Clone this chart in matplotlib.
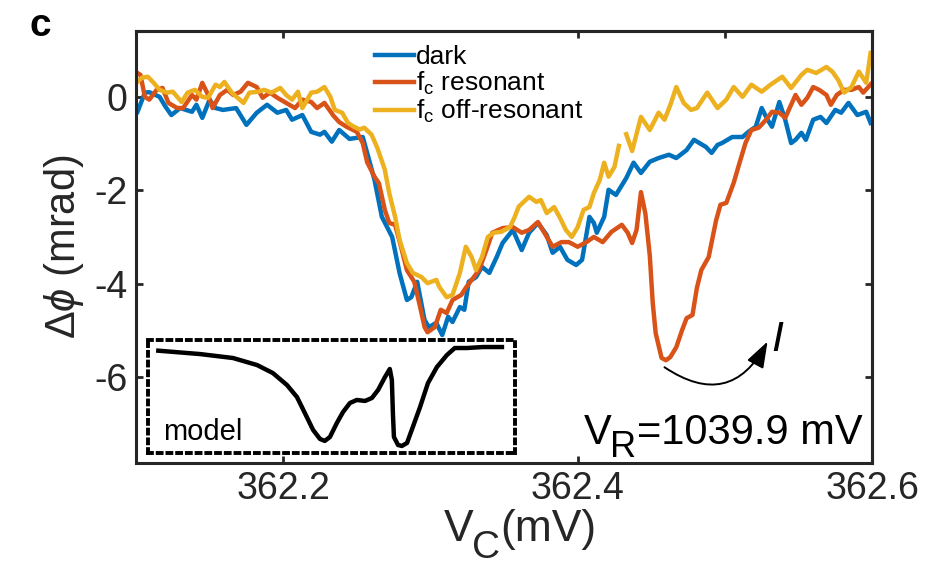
import numpy as np
import matplotlib
matplotlib.use("Agg")
import matplotlib.pyplot as plt

plt.rcParams['font.family'] = ['Liberation Sans', 'DejaVu Sans']
plt.rcParams['mathtext.fontset'] = 'custom'
plt.rcParams['mathtext.rm'] = 'Liberation Sans'
plt.rcParams['mathtext.it'] = 'Liberation Sans:italic'

# dark
vc_dark = [362.101, 362.106, 362.109, 362.116, 362.120, 362.124, 362.130, 362.138, 362.141, 362.145,
           362.150, 362.154, 362.159, 362.168, 362.175, 362.182, 362.189, 362.196, 362.202, 362.206,
           362.213, 362.219, 362.225, 362.228, 362.233, 362.238, 362.245, 362.254, 362.257, 362.262,
           362.267, 362.274, 362.279, 362.284, 362.287, 362.291, 362.296, 362.299, 362.304, 362.308,
           362.312, 362.315, 362.320, 362.323, 362.326, 362.331, 362.335, 362.340, 362.345, 362.349,
           362.356, 362.362, 362.367, 362.373, 362.379, 362.383, 362.388, 362.393, 362.399, 362.403,
           362.408, 362.411, 362.413, 362.418, 362.421, 362.426, 362.433, 362.438, 362.443, 362.449,
           362.455, 362.462, 362.467, 362.474, 362.479, 362.487, 362.491, 362.495, 362.498, 362.505,
           362.512, 362.516, 362.521, 362.525, 362.529, 362.532, 362.537, 362.541, 362.545, 362.548,
           362.552, 362.555, 362.560, 362.565, 362.569, 362.575, 362.579, 362.584, 362.590, 362.596,
           362.599]
dphi_dark = [-0.32, 0.09, 0.10, 0.00, -0.21, -0.39, -0.24, -0.32, -0.17, -0.45,
             -0.06, -0.24, -0.28, -0.24, -0.60, -0.34, -0.17, -0.34, -0.28, -0.49,
             -0.39, -0.75, -0.81, -0.75, -0.96, -0.71, -0.90, -0.86, -1.20, -1.78,
             -2.57, -3.00, -3.77, -4.35, -4.29, -3.96, -4.78, -4.93, -4.84, -5.10,
             -4.71, -4.82, -4.50, -4.56, -3.96, -3.86, -3.64, -3.77, -3.43, -3.13,
             -2.85, -3.28, -2.91, -2.70, -2.96, -3.34, -3.21, -3.49, -3.60, -3.49,
             -2.57, -2.70, -2.91, -2.57, -1.99, -2.10, -1.74, -1.41, -1.63, -1.39,
             -1.31, -1.24, -1.31, -1.14, -0.92, -1.07, -1.20, -1.03, -0.99, -0.86,
             -0.86, -0.75, -0.64, -0.24, -0.49, -0.64, -0.11, -0.49, -0.99, -0.92,
             -0.77, -0.92, -0.49, -0.43, -0.56, -0.28, -0.34, -0.13, -0.39, -0.32,
             -0.56]

# fc resonant
vc_res = [362.101, 362.103, 362.106, 362.109, 362.114, 362.118, 362.122, 362.128, 362.132, 362.138,
          362.141, 362.145, 362.149, 362.152, 362.157, 362.162, 362.166, 362.171, 362.176, 362.182,
          362.186, 362.191, 362.196, 362.202, 362.208, 362.213, 362.219, 362.223, 362.228, 362.234,
          362.238, 362.243, 362.250, 362.254, 362.257, 362.262, 362.265, 362.269, 362.272, 362.276,
          362.280, 362.284, 362.289, 362.293, 362.296, 362.298, 362.303, 362.307, 362.311, 362.315,
          362.321, 362.324, 362.328, 362.333, 362.338, 362.342, 362.349, 362.356, 362.362, 362.367,
          362.373, 362.377, 362.383, 362.389, 362.394, 362.400, 362.406, 362.411, 362.417, 362.423,
          362.430, 362.434, 362.437, 362.440, 362.443, 362.446, 362.449, 362.451, 362.453, 362.457,
          362.460, 362.463, 362.467, 362.471, 362.474, 362.478, 362.481, 362.484, 362.489, 362.494,
          362.497, 362.501, 362.506, 362.510, 362.514, 362.518, 362.523, 362.528, 362.532, 362.537,
          362.541, 362.548, 362.552, 362.556, 362.560, 362.564, 362.569, 362.572, 362.576, 362.581,
          362.586, 362.591, 362.594, 362.600]
dphi_res = [0.51, 0.47, 0.00, -0.06, 0.15, 0.19, -0.13, -0.24, -0.24, 0.04,
            -0.06, 0.30, 0.04, -0.24, 0.04, 0.15, 0.04, 0.11, 0.30, 0.21,
            -0.02, 0.09, -0.02, -0.13, -0.24, -0.06, -0.11, -0.24, -0.13, -0.40,
            -0.54, -0.64, -0.75, -0.99, -1.40, -1.71, -1.85, -2.42, -2.70, -2.74,
            -3.21, -3.71, -3.96, -4.50, -4.93, -5.04, -4.93, -4.56, -4.63, -4.35,
            -4.24, -4.09, -3.92, -3.71, -3.28, -2.91, -2.81, -2.79, -2.91, -2.85,
            -2.68, -2.89, -3.21, -3.11, -3.11, -3.21, -3.11, -3.00, -3.11, -2.89,
            -2.74, -2.91, -3.13, -2.85, -2.04, -2.50, -3.40, -4.41, -5.06, -5.59,
            -5.64, -5.57, -5.36, -4.99, -4.74, -4.67, -4.09, -3.71, -3.43, -2.65,
            -2.31, -2.27, -1.84, -1.41, -0.99, -0.71, -0.66, -0.49, -0.32, -0.34,
            -0.45, 0.04, -0.17, -0.02, 0.21, 0.15, 0.04, -0.17, 0.04, 0.15,
            0.15, 0.21, 0.09, 0.30]

# fc off-resonant (nan = gap in trace)
vc_off = [362.101, 362.104, 362.108, 362.112, 362.116, 362.121, 362.125, 362.131, 362.135, 362.140,
          362.145, 362.149, 362.154, 362.157, 362.160, 362.165, 362.169, 362.173, 362.177, 362.183,
          362.187, 362.192, 362.198, 362.202, 362.206, 362.210, 362.213, 362.219, 362.223, 362.228,
          362.232, 362.235, 362.240, 362.244, 362.248, 362.252, 362.255, 362.260, 362.264, 362.269,
          362.272, 362.276, 362.279, 362.284, 362.288, 362.294, 362.298, 362.304, 362.306, 362.311,
          362.315, 362.320, 362.324, 362.328, 362.331, 362.335, 362.339, 362.343, 362.348, 362.354,
          362.357, 362.360, 362.367, 362.372, 362.375, 362.379, 362.384, 362.388, 362.392, 362.396,
          362.400, 362.404, 362.408, 362.411, 362.415, 362.418, 362.421, 362.425, 362.428, 362.430,
          362.433, 362.437, 362.443, 362.449, 362.455, 362.459, 362.463, 362.467, 362.472, 362.477,
          362.481, 362.488, 362.495, 362.501, 362.506, 362.512, 362.518, 362.525, 362.531, 362.539,
          362.545, 362.552, 362.556, 362.562, 362.569, 362.573, 362.577, 362.581, 362.586, 362.591,
          362.596, 362.599]
dphi_off = [0.32, 0.41, 0.43, 0.30, 0.15, 0.09, 0.11, -0.11, 0.09, 0.15,
            0.00, -0.02, 0.26, 0.21, 0.32, 0.09, -0.02, -0.13, 0.09, 0.11,
            0.15, 0.09, 0.19, 0.04, -0.06, 0.11, -0.24, 0.09, 0.11, 0.21,
            0.00, -0.28, -0.34, -0.56, -0.64, -0.70, -0.66, -0.81, -1.10, -1.56,
            -2.06, -2.57, -3.06, -3.56, -3.77, -3.86, -3.99, -3.92, -4.07, -4.29,
            -4.24, -3.77, -3.21, -3.43, -3.71, -3.43, -3.00, -2.91, -2.89, -2.79,
            -2.59, -2.35, -2.14, -2.25, -2.21, -2.49, -2.36, -2.59, -2.85, -3.00,
            -2.79, -2.42, -2.36, -2.06, -1.78, -1.41, -1.71, -1.50, -1.05, np.nan,
            -0.80, -1.16, -0.43, -0.71, -0.34, -0.49, -0.17, 0.21, -0.13, -0.28,
            -0.24, 0.09, -0.24, -0.06, 0.21, 0.00, 0.26, 0.11, 0.26, 0.43,
            0.19, 0.47, 0.58, 0.51, 0.64, 0.54, 0.36, 0.09, 0.21, 0.54,
            0.30, 0.94]

# model curve for the inset (arbitrary units)
model_x = [0.001, 0.122, 0.218, 0.288, 0.334, 0.375, 0.404, 0.427, 0.451, 0.471,
           0.485, 0.500, 0.520, 0.538, 0.558, 0.578, 0.602, 0.622, 0.640, 0.660,
           0.674, 0.680, 0.683, 0.686, 0.698, 0.709, 0.724, 0.741, 0.762, 0.785,
           0.811, 0.840, 0.863, 0.898, 0.945, 1.000]
model_y = [-0.037, -0.071, -0.111, -0.182, -0.263, -0.384, -0.505, -0.667, -0.838, -0.929,
           -0.949, -0.909, -0.768, -0.657, -0.566, -0.535, -0.545, -0.515, -0.434, -0.303,
           -0.222, -0.333, -0.667, -0.909, -0.990, -1.000, -0.970, -0.808, -0.606, -0.364,
           -0.202, -0.081, -0.010, -0.010, 0.000, 0.000]

x_ticks = [362.2, 362.4, 362.6]
x_ticks_top = [362.2, 362.4, 362.5]
y_ticks = [-6, -4, -2, 0]

c_dark = '#0072BD'
c_res = '#D95319'
c_off = '#EDB120'
ink = '#262626'
LW = 3.2


def pieces(ax, x, y, parts, coords, color='black'):
    # text built from pieces so subscripts can be big and low, like the original
    t = ax.annotate(parts[0][0], xy=(x, y), xycoords=coords, fontsize=parts[0][1],
                    color=color, ha='left', va='bottom', annotation_clip=False)
    for s, size, dx, dy in parts[1:]:
        t = ax.annotate(s, xy=(1, 0), xycoords=t, xytext=(dx, dy), textcoords='offset points',
                        fontsize=size, color=color, ha='left', va='bottom', annotation_clip=False)
    return t


fig = plt.figure(figsize=(9.33, 5.75), dpi=100)
ax = fig.add_axes([0.1458, 0.1948, 0.7889, 0.7513])

ax.plot(vc_dark, dphi_dark, color=c_dark, lw=LW, label='dark')
ax.plot(vc_res, dphi_res, color=c_res, lw=LW, label=r'$\mathregular{f_c}$ resonant')
ax.plot(vc_off, dphi_off, color=c_off, lw=LW, label=r'$\mathregular{f_c}$ off-resonant')

ax.set_xlim(362.1, 362.6)
ax.set_ylim(-7.84, 1.41)
ax.set_xticks(x_ticks)
ax.set_xticklabels(['362.2', '362.4', '362.6'])
ax.set_yticks(y_ticks)
ax.set_yticklabels(['-6', '-4', '-2', '0'])
ax.tick_params(direction='in', length=5, width=2, colors=ink, labelsize=27, pad=6)
for s in ax.spines.values():
    s.set_linewidth(2.2)
    s.set_color(ink)

# ticks on top and right (box)
top = ax.secondary_xaxis('top')
top.set_xticks(x_ticks_top)
top.tick_params(direction='in', length=5, width=2, colors=ink, labeltop=False)
right = ax.secondary_yaxis('right')
right.set_yticks(y_ticks)
right.tick_params(direction='in', length=5, width=2, colors=ink, labelright=False)
top.spines['top'].set_linewidth(2.2)
right.spines['right'].set_linewidth(2.2)

ax.set_ylabel(r'$\Delta\phi$ (mrad)', fontsize=30, color=ink, labelpad=6)

# x label  V_C(mV)
pieces(ax, 0.476, 0.044, [('V', 32), ('C', 28, -1, -12), ('(mV)', 32, 0, 12)],
       'figure fraction', color=ink)

leg = ax.legend(loc='upper left', bbox_to_anchor=(0.325, 0.968), frameon=False,
                fontsize=19, handlelength=1.45, handletextpad=0.1, labelspacing=0.04,
                borderpad=0, borderaxespad=0)
for t in leg.get_texts():
    t.set_color('black')

# V_R = 1039.9 mV
pieces(ax, 362.404, -7.62, [('V', 30), ('R', 26, -1, -9), ('=1039.9 mV', 30, 1, 9)], 'data')

ax.annotate('', xy=(362.529, -5.24), xytext=(362.459, -5.79),
            arrowprops=dict(arrowstyle='-|>,head_length=0.8,head_width=0.28', color='black',
                            lw=1.4, connectionstyle='arc3,rad=0.55', shrinkA=0, shrinkB=0,
                            mutation_scale=20))
ax.text(362.5315, -5.2, 'I', fontsize=31, style='italic', va='center', ha='left')

fig.text(0.043, 0.955, 'c', fontsize=28, fontweight='bold', ha='center', va='center')

# inset with model
ins = fig.add_axes([148 / 933, 1 - 453 / 575, 367 / 933, 113 / 575])
ins.plot(model_x, model_y, color='black', lw=LW, solid_joinstyle='round')
ins.set_xlim(-0.029, 1.038)
ins.set_ylim(-1.071, 0.071)
ins.set_xticks([])
ins.set_yticks([])
ins.patch.set_alpha(0)
for s in ins.spines.values():
    s.set_linestyle((0, (1, 1.5)))
    s.set_linewidth(2.8)
    s.set_color('black')
ins.text(0.04, 0.065, 'model', transform=ins.transAxes, fontsize=21, va='bottom', ha='left')

fig.savefig('out.png', dpi=100)
